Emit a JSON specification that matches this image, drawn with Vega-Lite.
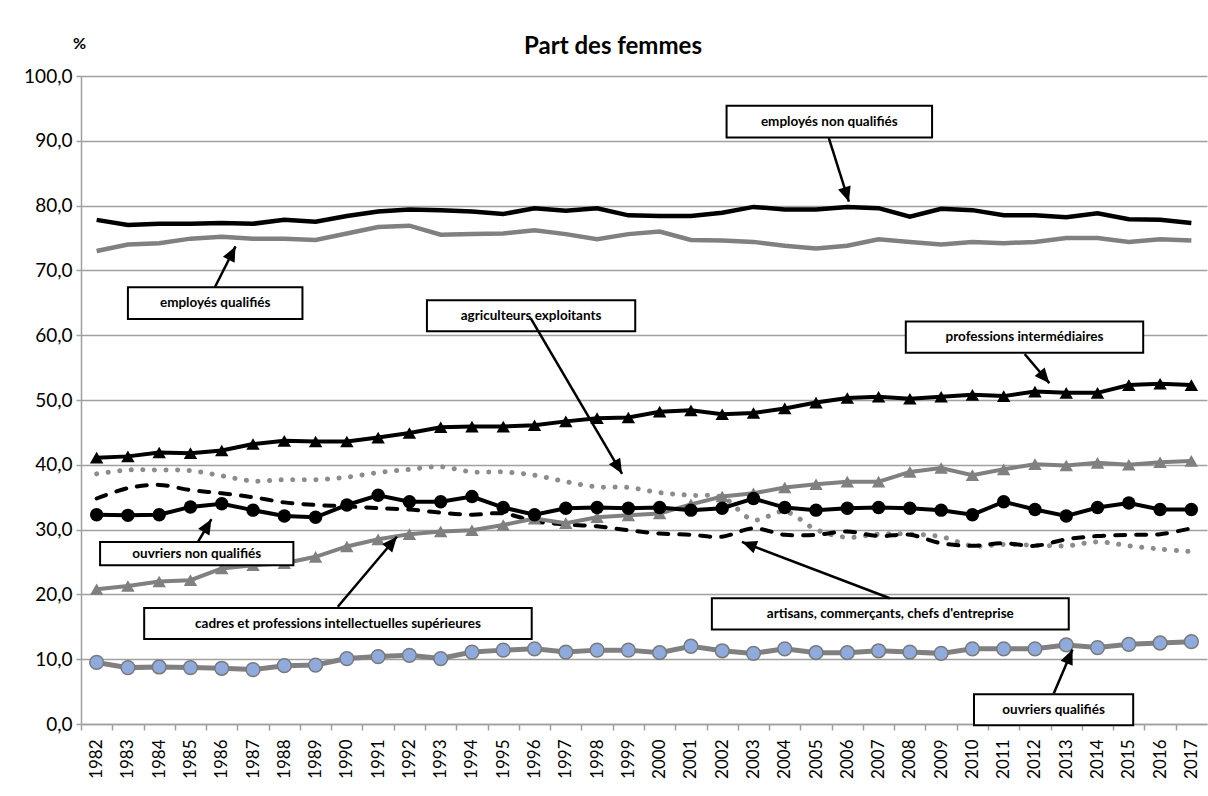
{
  "$schema": "https://vega.github.io/schema/vega-lite/v6.json",
  "width": 1126,
  "height": 648,
  "autosize": {"type": "none"},
  "padding": {"left": 81, "top": 76, "right": 1, "bottom": 72},
  "background": "white",
  "title": {"text": "Part des femmes", "font": "Lato", "fontSize": 24, "fontWeight": "bold", "color": "black", "anchor": "middle", "dx": -31, "dy": 42, "offset": 18},
  "config": {"view": {"stroke": null}, "font": "Lato", "axisX": {"labelOverlap": false, "labelFlush": false, "labelBound": false}},
  "datasets": {
    "series": [
      {"year": 1982, "enq": 77.8, "eq": 73.0, "pi": 41.1, "cadres": 20.8, "agri": 38.6, "artisans": 34.8, "onq": 32.3, "oq": 9.5},
      {"year": 1983, "enq": 77.0, "eq": 74.0, "pi": 41.3, "cadres": 21.3, "agri": 39.2, "artisans": 36.4, "onq": 32.2, "oq": 8.7},
      {"year": 1984, "enq": 77.2, "eq": 74.2, "pi": 41.9, "cadres": 22.0, "agri": 39.2, "artisans": 36.9, "onq": 32.3, "oq": 8.8},
      {"year": 1985, "enq": 77.2, "eq": 74.9, "pi": 41.8, "cadres": 22.2, "agri": 39.1, "artisans": 36.1, "onq": 33.5, "oq": 8.7},
      {"year": 1986, "enq": 77.3, "eq": 75.2, "pi": 42.2, "cadres": 24.0, "agri": 38.3, "artisans": 35.6, "onq": 34.0, "oq": 8.6},
      {"year": 1987, "enq": 77.2, "eq": 74.9, "pi": 43.2, "cadres": 24.5, "agri": 37.5, "artisans": 35.0, "onq": 33.0, "oq": 8.4},
      {"year": 1988, "enq": 77.8, "eq": 74.9, "pi": 43.7, "cadres": 24.8, "agri": 37.7, "artisans": 34.2, "onq": 32.1, "oq": 9.0},
      {"year": 1989, "enq": 77.5, "eq": 74.7, "pi": 43.6, "cadres": 25.8, "agri": 37.7, "artisans": 33.8, "onq": 31.9, "oq": 9.1},
      {"year": 1990, "enq": 78.4, "eq": 75.7, "pi": 43.6, "cadres": 27.4, "agri": 38.1, "artisans": 33.6, "onq": 33.8, "oq": 10.1},
      {"year": 1991, "enq": 79.1, "eq": 76.7, "pi": 44.2, "cadres": 28.5, "agri": 38.8, "artisans": 33.3, "onq": 35.3, "oq": 10.4},
      {"year": 1992, "enq": 79.4, "eq": 76.9, "pi": 44.9, "cadres": 29.3, "agri": 39.3, "artisans": 33.1, "onq": 34.3, "oq": 10.6},
      {"year": 1993, "enq": 79.3, "eq": 75.5, "pi": 45.8, "cadres": 29.7, "agri": 39.7, "artisans": 32.6, "onq": 34.3, "oq": 10.1},
      {"year": 1994, "enq": 79.1, "eq": 75.6, "pi": 45.9, "cadres": 29.9, "agri": 38.9, "artisans": 32.3, "onq": 35.1, "oq": 11.1},
      {"year": 1995, "enq": 78.7, "eq": 75.7, "pi": 45.9, "cadres": 30.7, "agri": 38.9, "artisans": 32.5, "onq": 33.4, "oq": 11.4},
      {"year": 1996, "enq": 79.6, "eq": 76.2, "pi": 46.1, "cadres": 31.7, "agri": 38.4, "artisans": 31.3, "onq": 32.3, "oq": 11.6},
      {"year": 1997, "enq": 79.2, "eq": 75.6, "pi": 46.7, "cadres": 31.0, "agri": 37.4, "artisans": 30.8, "onq": 33.3, "oq": 11.1},
      {"year": 1998, "enq": 79.6, "eq": 74.8, "pi": 47.2, "cadres": 31.9, "agri": 36.6, "artisans": 30.5, "onq": 33.4, "oq": 11.4},
      {"year": 1999, "enq": 78.5, "eq": 75.6, "pi": 47.3, "cadres": 32.2, "agri": 36.5, "artisans": 29.9, "onq": 33.3, "oq": 11.4},
      {"year": 2000, "enq": 78.4, "eq": 76.0, "pi": 48.2, "cadres": 32.5, "agri": 35.7, "artisans": 29.4, "onq": 33.4, "oq": 11.0},
      {"year": 2001, "enq": 78.4, "eq": 74.7, "pi": 48.4, "cadres": 33.9, "agri": 35.3, "artisans": 29.2, "onq": 33.0, "oq": 12.0},
      {"year": 2002, "enq": 78.9, "eq": 74.6, "pi": 47.8, "cadres": 35.1, "agri": 35.0, "artisans": 28.9, "onq": 33.3, "oq": 11.3},
      {"year": 2003, "enq": 79.8, "eq": 74.4, "pi": 48.0, "cadres": 35.6, "agri": 31.5, "artisans": 30.2, "onq": 34.8, "oq": 10.9},
      {"year": 2004, "enq": 79.4, "eq": 73.8, "pi": 48.7, "cadres": 36.5, "agri": 32.8, "artisans": 29.2, "onq": 33.4, "oq": 11.6},
      {"year": 2005, "enq": 79.4, "eq": 73.4, "pi": 49.6, "cadres": 37.0, "agri": 30.0, "artisans": 29.2, "onq": 33.0, "oq": 11.0},
      {"year": 2006, "enq": 79.8, "eq": 73.8, "pi": 50.3, "cadres": 37.4, "agri": 28.8, "artisans": 29.7, "onq": 33.3, "oq": 11.0},
      {"year": 2007, "enq": 79.6, "eq": 74.8, "pi": 50.5, "cadres": 37.4, "agri": 29.3, "artisans": 29.0, "onq": 33.4, "oq": 11.3},
      {"year": 2008, "enq": 78.3, "eq": 74.4, "pi": 50.2, "cadres": 38.9, "agri": 29.3, "artisans": 29.2, "onq": 33.3, "oq": 11.1},
      {"year": 2009, "enq": 79.5, "eq": 74.0, "pi": 50.5, "cadres": 39.5, "agri": 28.9, "artisans": 27.9, "onq": 33.0, "oq": 10.9},
      {"year": 2010, "enq": 79.3, "eq": 74.4, "pi": 50.8, "cadres": 38.4, "agri": 27.5, "artisans": 27.5, "onq": 32.3, "oq": 11.6},
      {"year": 2011, "enq": 78.5, "eq": 74.2, "pi": 50.6, "cadres": 39.3, "agri": 27.7, "artisans": 27.9, "onq": 34.3, "oq": 11.6},
      {"year": 2012, "enq": 78.5, "eq": 74.4, "pi": 51.3, "cadres": 40.1, "agri": 27.6, "artisans": 27.5, "onq": 33.1, "oq": 11.6},
      {"year": 2013, "enq": 78.2, "eq": 75.0, "pi": 51.1, "cadres": 39.9, "agri": 27.5, "artisans": 28.5, "onq": 32.1, "oq": 12.2},
      {"year": 2014, "enq": 78.8, "eq": 75.0, "pi": 51.1, "cadres": 40.3, "agri": 28.1, "artisans": 29.0, "onq": 33.4, "oq": 11.8},
      {"year": 2015, "enq": 77.9, "eq": 74.4, "pi": 52.3, "cadres": 40.0, "agri": 27.5, "artisans": 29.2, "onq": 34.1, "oq": 12.3},
      {"year": 2016, "enq": 77.8, "eq": 74.8, "pi": 52.5, "cadres": 40.4, "agri": 27.0, "artisans": 29.3, "onq": 33.1, "oq": 12.5},
      {"year": 2017, "enq": 77.3, "eq": 74.6, "pi": 52.3, "cadres": 40.6, "agri": 26.6, "artisans": 30.2, "onq": 33.1, "oq": 12.7}
    ],
    "notes": [
      {"label": "employés non qualifiés", "x1": 2002.14, "x2": 2008.71, "y1": 95.4, "y2": 90.5},
      {"label": "employés qualifiés", "x1": 1983.0, "x2": 1988.58, "y1": 67.4, "y2": 62.5},
      {"label": "agriculteurs exploitants", "x1": 1992.56, "x2": 1999.22, "y1": 65.4, "y2": 60.6},
      {"label": "professions intermédiaires", "x1": 2007.87, "x2": 2015.46, "y1": 62.1, "y2": 57.3},
      {"label": "ouvriers non qualifiés", "x1": 1982.11, "x2": 1988.29, "y1": 28.1, "y2": 24.5},
      {"label": "cadres et professions intellectuelles supérieures", "x1": 1983.52, "x2": 1995.91, "y1": 17.9, "y2": 13.1},
      {"label": "artisans, commerçants, chefs d'entreprise", "x1": 2001.67, "x2": 2013.08, "y1": 19.4, "y2": 14.6},
      {"label": "ouvriers qualifiés", "x1": 2010.05, "x2": 2015.14, "y1": 4.6, "y2": -0.2}
    ],
    "arrows": [
      {"sx": 2005.41, "sy": 90.4, "tx": 2006.05, "ty": 80.6},
      {"sx": 1985.78, "sy": 67.4, "tx": 1986.44, "ty": 73.7},
      {"sx": 1995.88, "sy": 62.6, "tx": 1998.8, "ty": 38.6},
      {"sx": 2011.67, "sy": 57.1, "tx": 2012.46, "ty": 52.6},
      {"sx": 1985.24, "sy": 28.1, "tx": 1985.67, "ty": 31.6},
      {"sx": 1989.71, "sy": 18.1, "tx": 1991.6, "ty": 28.9},
      {"sx": 2007.36, "sy": 19.4, "tx": 2002.63, "ty": 28.1},
      {"sx": 2012.6, "sy": 4.7, "tx": 2013.2, "ty": 11.5}
    ]
  },
  "layer": [
    {
      "data": {"name": "series"},
      "mark": {"type": "line", "color": "#8c8c8c", "strokeWidth": 5, "strokeDash": [0.1, 11.5], "strokeCap": "round", "interpolate": "catmull-rom"},
      "encoding": {
        "x": {"field": "year", "type": "quantitative", "scale": {"domain": [1981.5, 2017.5], "nice": false, "zero": false},
          "axis": {"values": [1982,1983,1984,1985,1986,1987,1988,1989,1990,1991,1992,1993,1994,1995,1996,1997,1998,1999,2000,2001,2002,2003,2004,2005,2006,2007,2008,2009,2010,2011,2012,2013,2014,2015,2016,2017],
            "tickCount": 60, "format": "d", "labelAngle": -90, "labelAlign": "right", "labelBaseline": "middle", "labelFontSize": 17, "labelColor": "#000000", "labelPadding": 9,
            "tickSize": 6, "tickOffset": -15.64, "labelOffset": 15.64, "domainColor": "#a0a0a0", "tickColor": "#a0a0a0", "domainWidth": 1.5, "tickWidth": 1.5,
            "grid": false, "title": null, "labelFlush": false, "labelOverlap": false, "labelBound": false}},
        "y": {"field": "agri", "type": "quantitative", "scale": {"domain": [0, 100], "nice": false, "zero": true},
          "axis": {"values": [0,10,20,30,40,50,60,70,80,90,100], "labelExpr": "replace(format(datum.value, '.1f'), '.', ',')",
            "labelFontSize": 19, "labelColor": "#000000", "labelPadding": 4, "tickSize": 5, "grid": true, "gridColor": "#a0a0a0", "gridWidth": 1.5,
            "domainColor": "#a0a0a0", "tickColor": "#a0a0a0", "domainWidth": 1.5, "tickWidth": 1.5, "labelFlush": false,
            "title": "%", "titleAngle": 0, "titleX": -2, "titleY": -33, "titleAlign": "center", "titleBaseline": "middle", "titleFontSize": 16, "titleFontWeight": "bold", "titleColor": "#000000"}}
      }
    },
    {
      "data": {"name": "series"},
      "mark": {"type": "line", "color": "#000000", "strokeWidth": 4, "strokeDash": [10, 11], "strokeCap": "round", "interpolate": "catmull-rom"},
      "encoding": {
        "x": {"field": "year", "type": "quantitative"},
        "y": {"field": "artisans", "type": "quantitative"}
      }
    },
    {
      "data": {"name": "series"},
      "mark": {"type": "line", "color": "#808080", "strokeWidth": 4.5},
      "encoding": {
        "x": {"field": "year", "type": "quantitative"},
        "y": {"field": "eq", "type": "quantitative"}
      }
    },
    {
      "data": {"name": "series"},
      "mark": {"type": "line", "color": "#000000", "strokeWidth": 4.5},
      "encoding": {
        "x": {"field": "year", "type": "quantitative"},
        "y": {"field": "enq", "type": "quantitative"}
      }
    },
    {
      "data": {"name": "series"},
      "mark": {"type": "line", "color": "#808080", "strokeWidth": 4, "point": {"filled": true, "shape": "triangle-up", "size": 180, "color": "#808080", "opacity": 1}},
      "encoding": {
        "x": {"field": "year", "type": "quantitative"},
        "y": {"field": "cadres", "type": "quantitative"}
      }
    },
    {
      "data": {"name": "series"},
      "mark": {"type": "line", "color": "#000000", "strokeWidth": 4, "point": {"filled": true, "shape": "triangle-up", "size": 180, "color": "#000000", "opacity": 1}},
      "encoding": {
        "x": {"field": "year", "type": "quantitative"},
        "y": {"field": "pi", "type": "quantitative"}
      }
    },
    {
      "data": {"name": "series"},
      "mark": {"type": "line", "color": "#808080", "strokeWidth": 5, "point": {"filled": true, "shape": "circle", "size": 190, "fill": "#8FAADC", "stroke": "#7a7a7a", "strokeWidth": 1.5, "opacity": 1}},
      "encoding": {
        "x": {"field": "year", "type": "quantitative"},
        "y": {"field": "oq", "type": "quantitative"}
      }
    },
    {
      "data": {"name": "series"},
      "mark": {"type": "line", "color": "#000000", "strokeWidth": 4, "point": {"filled": true, "shape": "circle", "size": 180, "color": "#000000", "opacity": 1}},
      "encoding": {
        "x": {"field": "year", "type": "quantitative"},
        "y": {"field": "onq", "type": "quantitative"}
      }
    },
    {
      "data": {"name": "notes"},
      "mark": {"type": "rect", "fill": "#ffffff", "stroke": "#000000", "strokeWidth": 2},
      "encoding": {
        "x": {"field": "x1", "type": "quantitative"},
        "x2": {"field": "x2"},
        "y": {"field": "y1", "type": "quantitative"},
        "y2": {"field": "y2"}
      }
    },
    {
      "data": {"name": "notes"},
      "transform": [
        {"calculate": "(datum.x1 + datum.x2) / 2", "as": "xc"},
        {"calculate": "(datum.y1 + datum.y2) / 2", "as": "yc"}
      ],
      "mark": {"type": "text", "font": "Lato", "fontSize": 13.5, "fontWeight": "bold", "color": "#000000", "align": "center", "baseline": "middle"},
      "encoding": {
        "x": {"field": "xc", "type": "quantitative"},
        "y": {"field": "yc", "type": "quantitative"},
        "text": {"field": "label"}
      }
    },
    {
      "data": {"name": "arrows"},
      "mark": {"type": "rule", "color": "#000000", "strokeWidth": 2.5},
      "encoding": {
        "x": {"field": "sx", "type": "quantitative"},
        "x2": {"field": "tx"},
        "y": {"field": "sy", "type": "quantitative"},
        "y2": {"field": "ty"}
      }
    },
    {
      "data": {"name": "arrows"},
      "transform": [
        {"calculate": "atan2((datum.tx - datum.sx) * 31.28, (datum.ty - datum.sy) * 6.48) * 180 / PI", "as": "ang"}
      ],
      "mark": {"type": "point", "filled": true, "color": "#000000", "opacity": 1, "shape": "M0,0L-0.7,1.6L0.7,1.6Z", "size": 350},
      "encoding": {
        "x": {"field": "tx", "type": "quantitative"},
        "y": {"field": "ty", "type": "quantitative"},
        "angle": {"field": "ang", "type": "quantitative", "scale": null}
      }
    }
  ]
}
